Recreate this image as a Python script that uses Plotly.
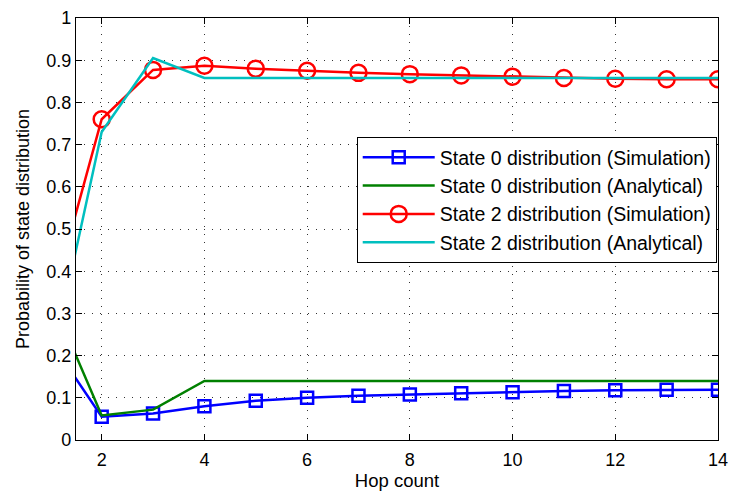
import plotly.graph_objects as go

hops = [1, 2, 3, 4, 5, 6, 7, 8, 9, 10, 11, 12, 13, 14]
state0_sim = [0.235, 0.055, 0.063, 0.080, 0.093, 0.100, 0.105, 0.108, 0.111, 0.113, 0.116, 0.118, 0.119, 0.119]
state0_ana = [0.342, 0.058, 0.072, 0.140, 0.140, 0.140, 0.140, 0.140, 0.140, 0.140, 0.140, 0.140, 0.140, 0.140]
state2_sim = [0.316, 0.760, 0.877, 0.887, 0.880, 0.875, 0.870, 0.867, 0.864, 0.861, 0.858, 0.856, 0.855, 0.855]
state2_ana = [0.170, 0.730, 0.905, 0.858, 0.858, 0.858, 0.858, 0.858, 0.858, 0.858, 0.858, 0.858, 0.858, 0.858]

font = "Liberation Sans, Arial, sans-serif"
fig = go.Figure()
fig.add_trace(go.Scatter(x=hops, y=state0_sim, mode="lines+markers", name="State 0 distribution (Simulation)",
                         line=dict(color="#0000ff", width=2.5),
                         marker=dict(symbol="square-open", size=12, color="#0000ff", line=dict(width=2.5))))
fig.add_trace(go.Scatter(x=hops, y=state0_ana, mode="lines", name="State 0 distribution (Analytical)",
                         line=dict(color="#008000", width=2.5)))
fig.add_trace(go.Scatter(x=hops, y=state2_sim, mode="lines+markers", name="State 2 distribution (Simulation)",
                         line=dict(color="#ff0000", width=2.5),
                         marker=dict(symbol="circle-open", size=16, color="#ff0000", line=dict(width=2.5))))
fig.add_trace(go.Scatter(x=hops, y=state2_ana, mode="lines", name="State 2 distribution (Analytical)",
                         line=dict(color="#00bfbf", width=2.5)))

axis_common = dict(showline=True, linecolor="black", linewidth=1.2, mirror="ticks", ticks="inside",
                   ticklen=6, tickcolor="black", showgrid=True, gridcolor="#333333", griddash="1px,7px",
                   gridwidth=1, zeroline=False, automargin=False,
                   tickfont=dict(family=font, size=18, color="black"))
fig.update_xaxes(range=[1.5, 14], tickvals=[2, 4, 6, 8, 10, 12, 14], ticklabelstandoff=3,
                 title=dict(text="Hop count", font=dict(family=font, size=18.5, color="black"), standoff=5),
                 **axis_common)
fig.update_yaxes(range=[0, 1], tickvals=[0, 0.1, 0.2, 0.3, 0.4, 0.5, 0.6, 0.7, 0.8, 0.9, 1],
                 ticktext=["0", "0.1", "0.2", "0.3", "0.4", "0.5", "0.6", "0.7", "0.8", "0.9", "1"],
                 title=dict(text="Probability of state distribution", font=dict(family=font, size=18, color="black"), standoff=11),
                 **axis_common)
fig.update_layout(
    width=731, height=493, plot_bgcolor="white", paper_bgcolor="white",
    margin=dict(l=76, r=13, t=18, b=53),
    showlegend=True,
    legend=dict(x=0.998, y=0.718, xanchor="right", yanchor="top", bgcolor="white",
                bordercolor="black", borderwidth=1, font=dict(family=font, size=19.5, color="black"),
                tracegroupgap=0, itemwidth=72),
)
fig.write_html("out.html")
